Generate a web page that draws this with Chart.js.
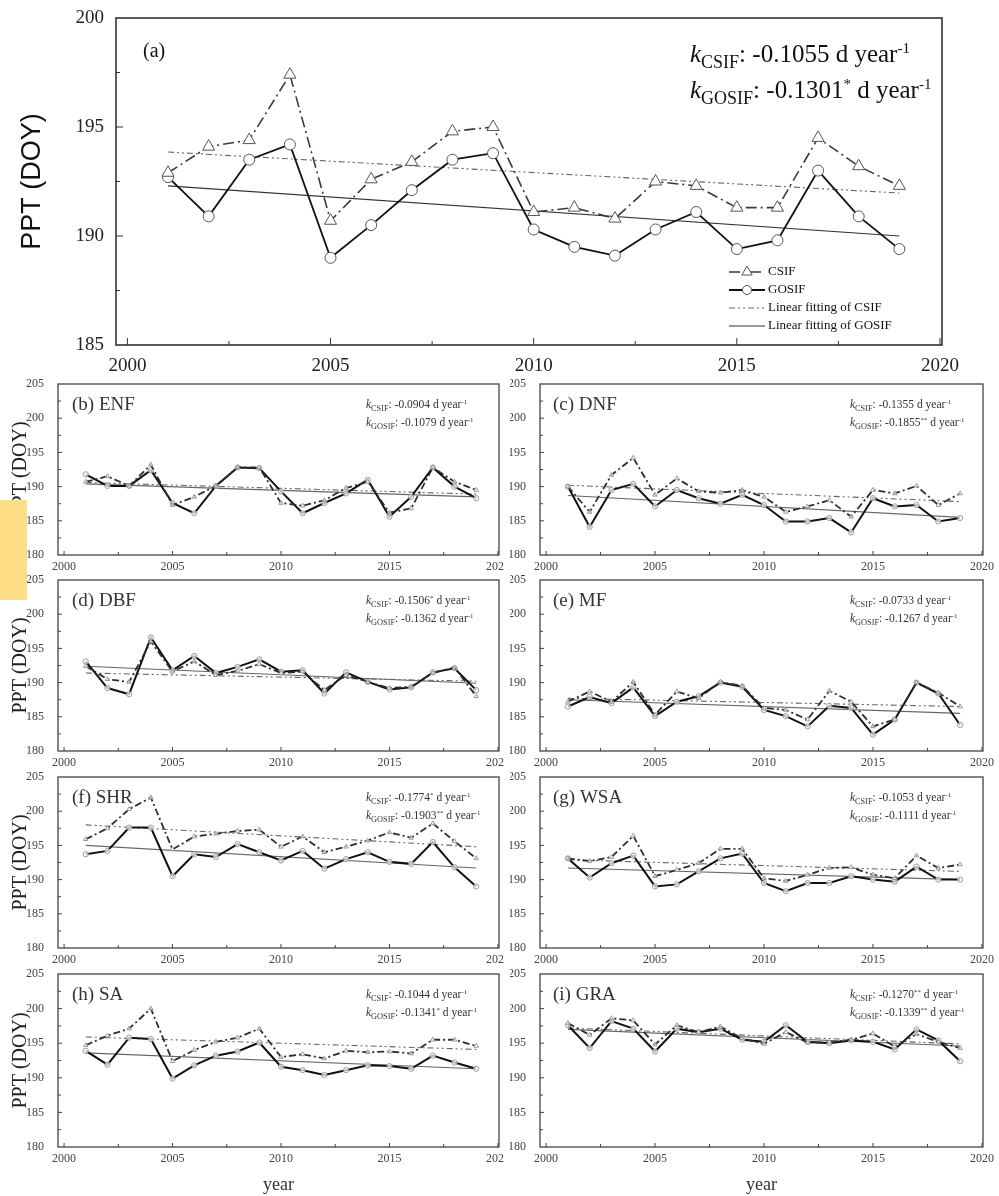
<!DOCTYPE html>
<html>
<head>
<meta charset="utf-8">
<script src="https://cdn.jsdelivr.net/npm/chart.js@4.4.0/dist/chart.umd.min.js"></script>
<style>
  html, body { margin: 0; padding: 0; background: #fff; overflow: hidden; }
  #wrap { position: relative; width: 999px; height: 1196px; }
  #wrap canvas { position: absolute; }
  .note { position: absolute; left: 0; top: 500px; width: 27px; height: 100px; background: #fdde87; z-index: 5; }
</style>
</head>
<body>
<div id="wrap"><div class="note"></div></div>
<script>
// years and fit end points
const years = [2001, 2002, 2003, 2004, 2005, 2006, 2007, 2008, 2009, 2010, 2011, 2012, 2013, 2014, 2015, 2016, 2017, 2018, 2019];
const fitYears = [2001, 2019];
const xTicks = [2000, 2005, 2010, 2015, 2020];
const yTicksA = [185, 190, 195, 200];
const yTicksSmall = [180, 185, 190, 195, 200, 205];

// (a) all
const csifA = [192.9, 194.1, 194.4, 197.4, 190.7, 192.6, 193.4, 194.8, 195.0, 191.1, 191.3, 190.8, 192.5, 192.3, 191.3, 191.3, 194.5, 193.2, 192.3];
const gosifA = [192.7, 190.9, 193.5, 194.2, 189.0, 190.5, 192.1, 193.5, 193.8, 190.3, 189.5, 189.1, 190.3, 191.1, 189.4, 189.8, 193.0, 190.9, 189.4];
const fitCsifA = [193.85, 191.97];
const fitGosifA = [192.3, 190.0];

// (b) ENF
const csifB = [190.7, 191.5, 190.1, 193.2, 187.3, 188.5, 190.1, 192.8, 192.8, 187.6, 187.2, 188.0, 189.8, 190.7, 186.2, 186.8, 192.8, 190.7, 189.5];
const gosifB = [191.8, 190.1, 190.1, 192.4, 187.6, 186.1, 190.1, 192.8, 192.7, 189.3, 186.1, 187.6, 189.0, 191.0, 185.6, 188.5, 192.8, 190.0, 188.3];
const fitCsifB = [190.6, 188.9];
const fitGosifB = [190.4, 188.5];

// (c) DNF
const csifC = [190.0, 186.3, 191.7, 194.2, 188.8, 191.2, 189.3, 189.1, 189.5, 188.5, 186.3, 187.1, 188.0, 185.6, 189.5, 189.0, 190.1, 187.3, 189.0];
const gosifC = [190.0, 184.1, 189.5, 190.4, 187.1, 189.5, 188.3, 187.5, 188.8, 187.3, 184.9, 184.9, 185.4, 183.3, 188.3, 187.1, 187.3, 184.9, 185.4];
const fitCsifC = [190.2, 187.8];
const fitGosifC = [188.7, 185.5];

// (d) DBF
const csifD = [192.4, 190.5, 190.1, 196.0, 191.6, 193.1, 191.1, 191.7, 192.7, 191.4, 191.6, 188.9, 191.1, 190.1, 189.2, 189.4, 191.4, 192.2, 188.0];
const gosifD = [193.1, 189.2, 188.3, 196.6, 191.8, 193.9, 191.4, 192.3, 193.4, 191.6, 191.8, 188.4, 191.5, 190.1, 189.0, 189.3, 191.5, 192.1, 188.9];
const fitCsifD = [191.4, 190.2];
const fitGosifD = [192.4, 189.9];

// (e) MF
const csifE = [187.2, 188.7, 187.2, 190.1, 185.3, 188.7, 187.7, 190.1, 189.5, 186.3, 186.0, 184.6, 188.8, 187.2, 183.6, 184.6, 190.0, 188.5, 186.5];
const gosifE = [186.5, 187.9, 187.0, 189.3, 185.1, 187.2, 188.0, 190.0, 189.4, 186.0, 185.1, 183.6, 186.6, 186.3, 182.4, 184.6, 190.0, 188.4, 183.8];
const fitCsifE = [187.7, 186.5];
const fitGosifE = [187.5, 185.5];

// (f) SHR
const csifF = [195.9, 197.5, 200.3, 202.0, 194.4, 196.3, 196.7, 197.1, 197.3, 194.8, 196.3, 194.0, 194.8, 195.7, 196.9, 196.1, 198.2, 195.6, 193.1];
const gosifF = [193.7, 194.2, 197.6, 197.6, 190.5, 193.7, 193.3, 195.2, 194.0, 192.8, 194.2, 191.6, 193.0, 194.0, 192.6, 192.3, 195.5, 191.8, 189.0];
const fitCsifF = [198.0, 194.8];
const fitGosifF = [195.0, 191.7];

// (g) WSA
const csifG = [193.1, 192.7, 193.3, 196.4, 190.5, 191.4, 192.4, 194.5, 194.5, 190.2, 189.8, 190.7, 191.7, 191.8, 190.7, 190.2, 193.5, 191.7, 192.2];
const gosifG = [193.1, 190.3, 192.4, 193.5, 189.0, 189.3, 191.2, 193.1, 193.8, 189.5, 188.3, 189.5, 189.5, 190.5, 190.0, 189.7, 191.9, 190.0, 190.0];
const fitCsifG = [192.9, 191.2];
const fitGosifG = [191.7, 190.0];

// (h) SA
const csifH = [194.7, 196.1, 197.1, 200.0, 192.4, 194.0, 195.2, 195.8, 197.1, 193.0, 193.4, 192.8, 193.9, 193.7, 193.8, 193.5, 195.5, 195.5, 194.6];
const gosifH = [193.9, 191.9, 195.8, 195.6, 189.9, 191.8, 193.2, 193.8, 195.1, 191.6, 191.1, 190.4, 191.1, 191.8, 191.7, 191.3, 193.2, 192.2, 191.3];
const fitCsifH = [195.9, 194.1];
const fitGosifH = [193.6, 191.3];

// (i) GRA
const csifI = [197.9, 196.2, 198.6, 198.3, 194.8, 197.6, 196.6, 197.4, 195.7, 194.9, 196.6, 195.1, 195.1, 195.5, 196.4, 194.5, 196.3, 195.2, 194.3];
const gosifI = [197.6, 194.3, 198.2, 197.1, 193.8, 197.1, 196.6, 197.1, 195.5, 195.2, 197.6, 195.2, 195.0, 195.4, 195.2, 194.1, 197.0, 195.4, 192.4];
const fitCsifI = [197.2, 194.9];
const fitGosifI = [197.0, 194.6];

// slopes shown in each panel
const kCsif = ['-0.1055', '-0.0904', '-0.1355', '-0.1506*', '-0.0733', '-0.1774*', '-0.1053', '-0.1044', '-0.1270**'];
const kGosif = ['-0.1301*', '-0.1079', '-0.1855**', '-0.1362', '-0.1267', '-0.1903**', '-0.1111', '-0.1341*', '-0.1339**'];
const panelNames = ['(a)', '(b) ENF', '(c) DNF', '(d) DBF', '(e) MF', '(f) SHR', '(g) WSA', '(h) SA', '(i) GRA'];

const SERIF = '"Liberation Serif", "Times New Roman", serif';

function pts(xs, ys) {
  return xs.map((x, i) => ({ x: x, y: ys[i] }));
}

function drawK(ctx, x, y, sub, text, size, color) {
  const m = /^(.*?)(\**)$/.exec(text);
  const subSize = size * 0.72, supSize = size * 0.6;
  ctx.fillStyle = color;
  ctx.textAlign = 'left';
  ctx.textBaseline = 'alphabetic';
  const put = (s, font, dy) => {
    ctx.font = font;
    ctx.fillText(s, x, y + dy);
    x += ctx.measureText(s).width;
  };
  put('k', 'italic ' + size + 'px ' + SERIF, 0);
  put(sub, subSize + 'px ' + SERIF, size * 0.25);
  put(': ' + m[1], size + 'px ' + SERIF, 0);
  if (m[2]) put(m[2], supSize + 'px ' + SERIF, -size * 0.38);
  put(' d year', size + 'px ' + SERIF, 0);
  put('-1', supSize + 'px ' + SERIF, -size * 0.38);
}

// box, inward ticks, panel label, slopes, legend
const decor = {
  id: 'decor',
  afterDatasetsDraw(chart, args, o) {
    const ctx = chart.ctx, a = chart.chartArea;
    ctx.save();
    ctx.strokeStyle = o.edge;
    ctx.lineWidth = o.edgeWidth;
    ctx.strokeRect(a.left, a.top, a.right - a.left, a.bottom - a.top);

    ctx.lineWidth = 1;
    ctx.beginPath();
    ['x', 'y'].forEach(function (id) {
      const s = chart.scales[id];
      const vals = s.ticks.map(t => t.value);
      const all = [];
      vals.forEach((v, i) => {
        all.push([v, o.tickMajor]);
        if (i < vals.length - 1) all.push([(v + vals[i + 1]) / 2, o.tickMinor]);
      });
      all.forEach(function (t) {
        const p = s.getPixelForValue(t[0]);
        if (id === 'x') {
          if (p < a.left + 1 || p > a.right - 1) return;
          ctx.moveTo(p, a.bottom);
          ctx.lineTo(p, a.bottom - t[1]);
        } else {
          if (p < a.top + 1 || p > a.bottom - 1) return;
          ctx.moveTo(a.left, p);
          ctx.lineTo(a.left + t[1], p);
        }
      });
    });
    ctx.stroke();

    ctx.fillStyle = o.ink;
    ctx.font = o.labelSize + 'px ' + SERIF;
    ctx.textAlign = 'left';
    ctx.textBaseline = 'middle';
    ctx.fillText(o.label, a.left + o.labelX, a.top + o.labelY);

    drawK(ctx, a.right - o.kx, a.top + o.ky1, 'CSIF', o.kC, o.kSize, o.ink);
    drawK(ctx, a.right - o.kx, a.top + o.ky2, 'GOSIF', o.kG, o.kSize, o.ink);

    if (o.legend) {
      const L = o.legend;
      chart.data.datasets.forEach(function (ds, i) {
        const y = L.rows[i];
        ctx.save();
        ctx.strokeStyle = ds.borderColor;
        ctx.lineWidth = ds.borderWidth;
        ctx.setLineDash(ds.borderDash || []);
        ctx.beginPath();
        ctx.moveTo(L.x0, y);
        ctx.lineTo(L.x1, y);
        ctx.stroke();
        ctx.setLineDash([]);
        if (ds.pointRadius > 0) {
          ctx.fillStyle = ds.pointBackgroundColor;
          ctx.strokeStyle = ds.pointBorderColor;
          ctx.lineWidth = ds.pointBorderWidth;
          Chart.helpers.drawPoint(ctx, {
            pointStyle: ds.pointStyle, rotation: 0,
            radius: ds.pointRadius - 1, borderWidth: ds.pointBorderWidth
          }, (L.x0 + L.x1) / 2, y);
        }
        ctx.restore();
        ctx.fillStyle = o.ink;
        ctx.font = L.size + 'px ' + SERIF;
        ctx.textAlign = 'left';
        ctx.textBaseline = 'middle';
        ctx.fillText(ds.label, L.tx, y);
      });
    }
    ctx.restore();
  }
};

function makePanel(o) {
  const cv = document.createElement('canvas');
  cv.width = o.w;
  cv.height = o.h;
  cv.style.left = o.left + 'px';
  cv.style.top = o.top + 'px';
  document.getElementById('wrap').appendChild(cv);

  const big = o.big;
  const mark = big ? { r: 6, c: '#555', f: '#fff', w: 1 } : { r: 2.6, c: '#9a9a9a', f: 'rgba(255,255,255,0.7)', w: 1 };

  return new Chart(cv, {
    type: 'line',
    data: {
      datasets: [
        {
          label: 'CSIF', data: pts(years, o.csif),
          borderColor: big ? '#3a3a3a' : '#2e2e2e', borderWidth: big ? 1.6 : 1.8,
          borderDash: big ? [11, 4, 2, 4] : [7, 3, 2, 3],
          pointStyle: 'triangle', pointRadius: big ? 7 : mark.r,
          pointBackgroundColor: mark.f, pointBorderColor: mark.c, pointBorderWidth: mark.w
        },
        {
          label: 'GOSIF', data: pts(years, o.gosif),
          borderColor: '#111', borderWidth: big ? 1.8 : 2,
          pointStyle: 'circle', pointRadius: big ? 5.5 : mark.r,
          pointBackgroundColor: mark.f, pointBorderColor: mark.c, pointBorderWidth: mark.w
        },
        {
          label: 'Linear fitting of CSIF', data: pts(fitYears, o.fitC),
          borderColor: '#666', borderWidth: 1.1, borderDash: [6, 3, 2, 3, 2, 3], pointRadius: 0
        },
        {
          label: 'Linear fitting of GOSIF', data: pts(fitYears, o.fitG),
          borderColor: big ? '#333' : '#666', borderWidth: 1.1, pointRadius: 0
        }
      ]
    },
    options: {
      responsive: false,
      animation: false,
      devicePixelRatio: 1,
      layout: { padding: o.pad },
      plugins: {
        legend: { display: false },
        tooltip: { enabled: false },
        decor: o.decor
      },
      scales: {
        x: {
          type: 'linear', min: 1999.72, max: 2020.05,
          grid: { display: false, drawTicks: false }, border: { display: false },
          afterBuildTicks: s => { s.ticks = xTicks.map(v => ({ value: v })); },
          ticks: {
            autoSkip: false, maxRotation: 0, padding: o.xPad,
            color: o.tickColor, font: { family: SERIF, size: o.tickSize },
            callback: v => String(v)
          },
          title: o.xTitle || { display: false },
          afterFit: s => { s.height = o.xh; s.paddingLeft = 0; s.paddingRight = 0; }
        },
        y: {
          min: o.ymin, max: o.ymax,
          grid: { display: false, drawTicks: false }, border: { display: false },
          afterBuildTicks: s => { s.ticks = o.yTicks.map(v => ({ value: v })); },
          ticks: {
            padding: o.yPad, color: o.tickColor, font: { family: SERIF, size: o.tickSize },
            callback: v => String(v)
          },
          title: o.yTitle || { display: false },
          afterFit: s => { s.width = o.yw; s.paddingTop = 0; s.paddingBottom = 0; }
        }
      }
    },
    plugins: [decor]
  });
}

// (a) big panel
makePanel({
  big: true, left: 0, top: 0, w: 999, h: 380,
  pad: { left: 0, right: 57, top: 18, bottom: 0 }, yw: 116, xh: 35,
  csif: csifA, gosif: gosifA, fitC: fitCsifA, fitG: fitGosifA,
  ymin: 185, ymax: 200, yTicks: yTicksA,
  tickSize: 19, tickColor: '#222', xPad: 10, yPad: 12,
  yTitle: {
    display: true, text: 'PPT (DOY)', color: '#111',
    font: { family: '"Liberation Sans", Arial, sans-serif', size: 27 },
    padding: { top: 16, bottom: 0 }
  },
  decor: {
    edge: '#333', edgeWidth: 1.6, tickMajor: 7, tickMinor: 4, ink: '#111',
    label: panelNames[0], labelSize: 20, labelX: 27, labelY: 34,
    kx: 252, ky1: 44, ky2: 80, kSize: 25, kC: kCsif[0], kG: kGosif[0],
    legend: { x0: 729, x1: 765, tx: 768, rows: [272, 290, 308, 326], size: 13 }
  }
});

// small panels
const rowTop = [384, 580, 777, 974];
const rowBottom = [555, 751, 948, 1147];
const smallData = [
  [csifB, gosifB, fitCsifB, fitGosifB],
  [csifC, gosifC, fitCsifC, fitGosifC],
  [csifD, gosifD, fitCsifD, fitGosifD],
  [csifE, gosifE, fitCsifE, fitGosifE],
  [csifF, gosifF, fitCsifF, fitGosifF],
  [csifG, gosifG, fitCsifG, fitGosifG],
  [csifH, gosifH, fitCsifH, fitGosifH],
  [csifI, gosifI, fitCsifI, fitGosifI]
];

smallData.forEach(function (d, i) {
  const row = Math.floor(i / 2), col = i % 2;
  const last = row === 3;
  const xh = last ? 1196 - rowBottom[row] : 24;
  const top = rowTop[row] - 12;
  const h = rowBottom[row] - rowTop[row] + 12 + xh;
  makePanel({
    big: false,
    left: col === 0 ? 0 : 510, top: top, w: col === 0 ? 504 : 489, h: h,
    pad: { left: 0, right: col === 0 ? 5 : 16, top: 12, bottom: 0 },
    yw: col === 0 ? 58 : 30, xh: xh,
    csif: d[0], gosif: d[1], fitC: d[2], fitG: d[3],
    ymin: 180, ymax: 205, yTicks: yTicksSmall,
    tickSize: 12, tickColor: '#444', xPad: 5, yPad: 14,
    yTitle: col === 0 ? {
      display: true, text: 'PPT (DOY)', color: '#222',
      font: { family: SERIF, size: 20 }, padding: { top: 9, bottom: 0 }
    } : null,
    xTitle: last ? {
      display: true, text: 'year', color: '#333',
      font: { family: SERIF, size: 18 }, padding: { top: 0, bottom: 0 }
    } : null,
    decor: {
      edge: '#444', edgeWidth: 1.3, tickMajor: 4, tickMinor: 3, ink: '#333',
      label: panelNames[i + 1], labelSize: 19, labelX: col === 0 ? 14 : 13, labelY: 21,
      kx: 133, ky1: 24, ky2: 42, kSize: 11.5, kC: kCsif[i + 1], kG: kGosif[i + 1]
    }
  });
});

// keep the sticky note on top
document.getElementById('wrap').appendChild(document.querySelector('.note'));
</script>
</body>
</html>
